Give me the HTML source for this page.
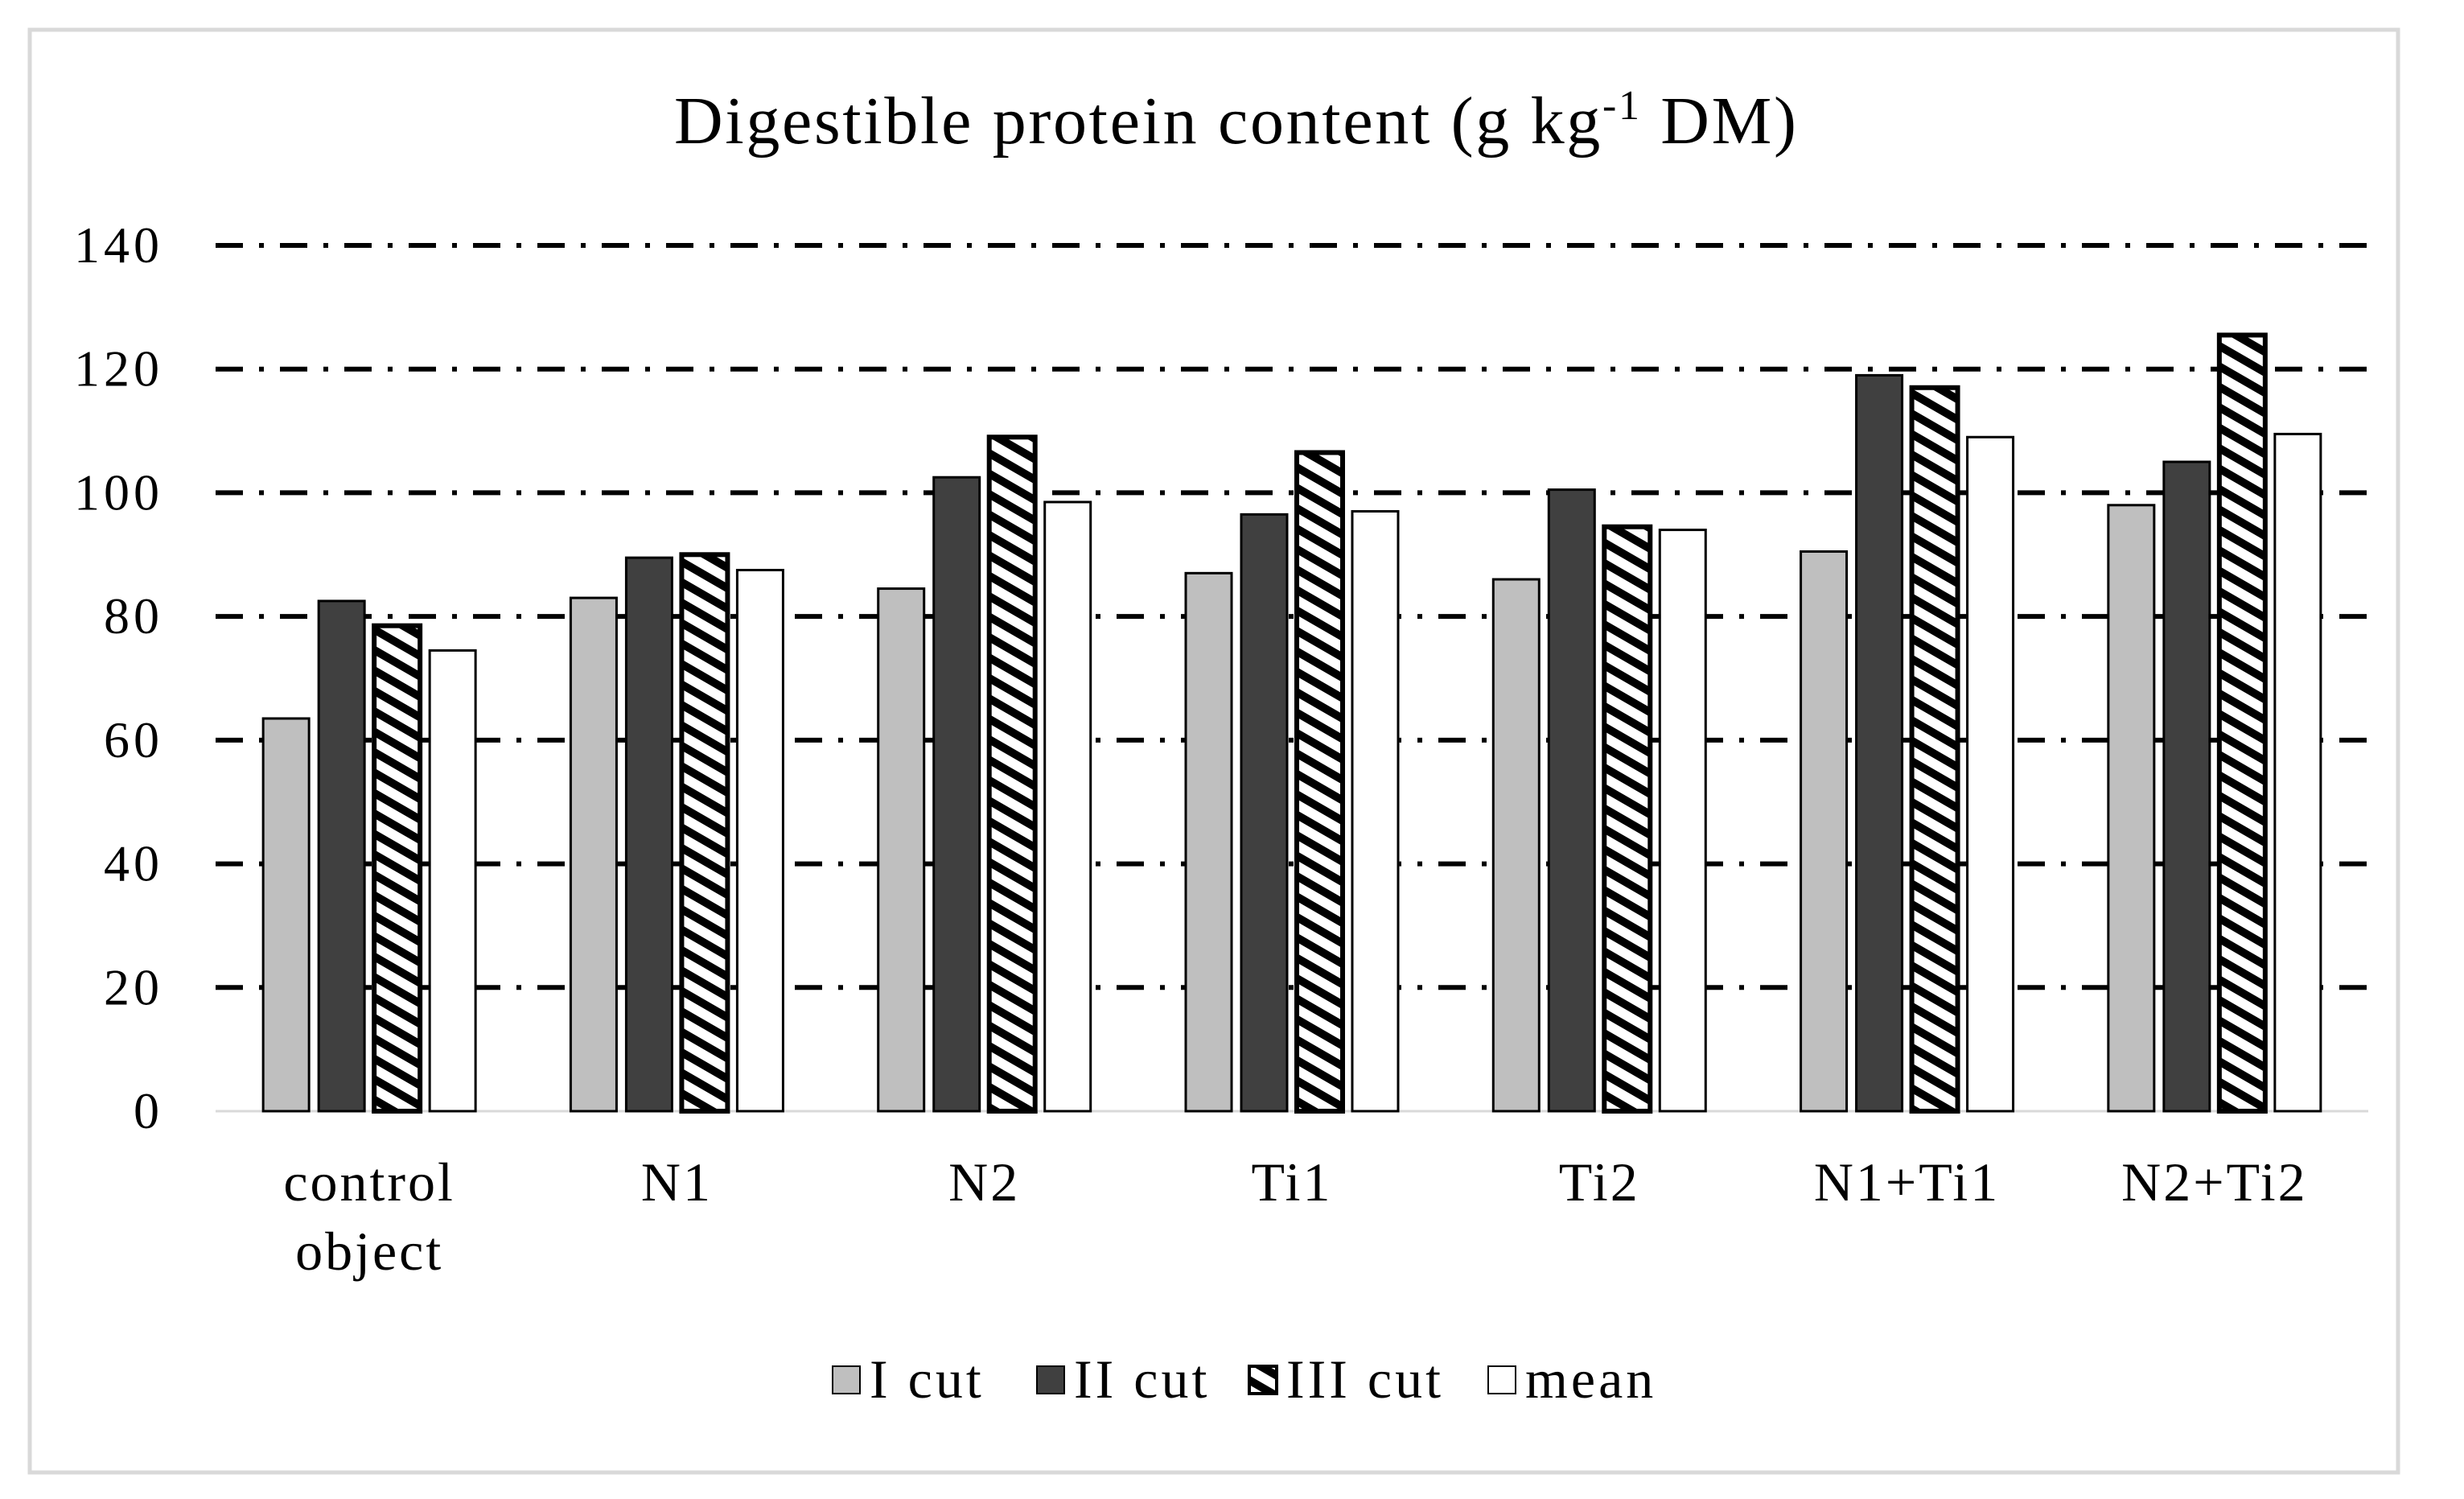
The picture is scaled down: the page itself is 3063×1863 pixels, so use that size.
<!DOCTYPE html>
<html><head><meta charset="utf-8"><style>
html,body{margin:0;padding:0;background:#fff}
svg{display:block;font-family:"Liberation Serif",serif}
</style></head><body>
<svg id="chart" width="3063" height="1863" viewBox="0 0 3063 1863" xmlns="http://www.w3.org/2000/svg">
<defs>
<pattern id="hatch" patternUnits="userSpaceOnUse" width="22" height="22" patternTransform="rotate(30)">
<rect width="22" height="22" fill="#fff"/>
<rect width="22" height="10" fill="#000"/>
</pattern>
</defs>
<rect x="37" y="37" width="2944" height="1793" fill="#fff" stroke="#d9d9d9" stroke-width="5"/>
<text x="838" y="178" font-size="84" textLength="1395" lengthAdjust="spacing">Digestible  protein content (g kg<tspan font-size="52" dy="-30">-1</tspan><tspan dy="30"> DM)</tspan></text>
<g id="grid"></g>
<g id="bars"></g>
<g id="labels"></g>
<g id="legend"></g>
</svg>
<script>
const categories = [["control","object"],["N1"],["N2"],["Ti1"],["Ti2"],["N1+Ti1"],["N2+Ti2"]];
const seriesNames = ["I cut","II cut","III cut","mean"];
const cut1 = [63.5, 83, 84.5, 87, 86, 90.5, 98];
const cut2 = [82.5, 89.5, 102.5, 96.5, 100.5, 119, 105];
const cut3 = [78.5, 90, 109, 106.5, 94.5, 117, 125.5];
const meanVals = [74.5, 87.5, 98.5, 97, 94, 109, 109.5];
const yTicks = [0, 20, 40, 60, 80, 100, 120, 140];

const NS = "http://www.w3.org/2000/svg";
const X0 = 268, X1 = 2944, Y0 = 1381, Y140 = 305;
const yScale = v => Y0 - (v / 140) * (Y0 - Y140);
const catW = (X1 - X0) / categories.length;
const xCenter = i => X0 + (i + 0.5) * catW;
const barW = 57, gap = 12;
const fills = ["#bfbfbf", "#404040", "url(#hatch)", "#fff"];
const series = [cut1, cut2, cut3, meanVals];

function mk(tag, attrs, parent) {
  const e = document.createElementNS(NS, tag);
  for (const k in attrs) e.setAttribute(k, attrs[k]);
  parent.appendChild(e);
  return e;
}
const grid = document.getElementById("grid");
yTicks.forEach(t => {
  const y = yScale(t);
  if (t > 0) {
    const l = mk("line", {x1: X0, x2: X1, y1: y, y2: y, stroke: "#000", "stroke-width": 6, "stroke-dasharray": "34 20 6 20"}, grid);
    
    
  } else {
    const l = mk("line", {x1: X0, x2: X1, y1: y, y2: y, stroke: "#d9d9d9", "stroke-width": 3}, grid);
    
    
  }
  const tx = mk("text", {x: 203, y: y + 21, "font-size": 64, "letter-spacing": 5, "text-anchor": "end"}, grid);
  tx.textContent = t;
  
  
});
const bars = document.getElementById("bars");
const groupW = 4 * barW + 3 * gap;
series.forEach((vals, s) => {
  vals.forEach((v, i) => {
    const x = xCenter(i) - groupW / 2 + s * (barW + gap);
    const y = yScale(v);
    const r = mk("rect", {x: x, y: y, width: barW, height: Y0 - y, fill: fills[s], stroke: "#000", "stroke-width": s === 2 ? 6 : 3}, bars);
    
    
  });
});
const labels = document.getElementById("labels");
categories.forEach((c, i) => {
  const t = mk("text", {x: xCenter(i), y: 1492, "font-size": 68, "letter-spacing": 3, "text-anchor": "middle"}, labels);
  
  
  c.forEach((line, k) => {
    const sp = mk("tspan", {x: xCenter(i), dy: k === 0 ? 0 : 86}, t);
    sp.textContent = line;
  });
});
const legend = document.getElementById("legend");
const legX = [1035, 1289, 1553, 1850];
seriesNames.forEach((n, s) => {
  const g = mk("g", {}, legend);
  
  
  mk("rect", {x: legX[s], y: 1698, width: 34, height: 34, fill: fills[s], stroke: "#000", "stroke-width": s === 2 ? 4 : 2}, g);
  const t = mk("text", {x: legX[s] + 46, y: 1737, "font-size": 68, "letter-spacing": 4}, g);
  t.textContent = n;
});
</script>
</body></html>
